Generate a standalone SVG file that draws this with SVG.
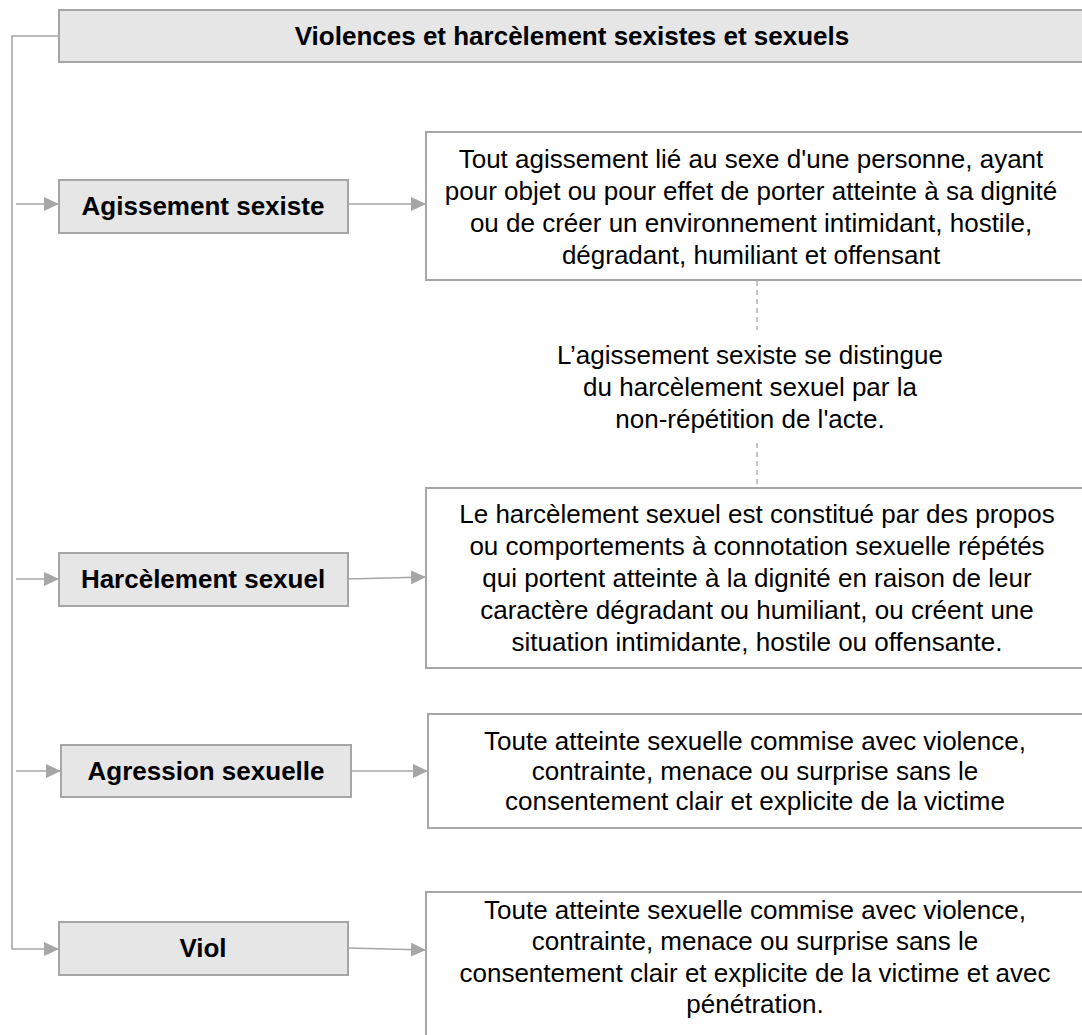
<svg xmlns="http://www.w3.org/2000/svg" width="1082" height="1035" viewBox="0 0 1082 1035">
<defs>
<style>
.gbox{fill:#e6e6e6;stroke:#a6a6a6;stroke-width:2}
.wbox{fill:#ffffff;stroke:#a6a6a6;stroke-width:2}
.ln{fill:none;stroke:#a6a6a6;stroke-width:1.6}
.dash{fill:none;stroke:#a6a6a6;stroke-width:1.3;stroke-dasharray:5 4}
.b{font-family:"Liberation Sans",Arial,sans-serif;font-weight:bold;font-size:26px;fill:#000;text-anchor:middle}
.t{font-family:"Liberation Sans",Arial,sans-serif;font-size:26px;fill:#000;text-anchor:middle}
</style>
<marker id="ah" markerWidth="15" markerHeight="14" refX="15" refY="7" orient="auto" markerUnits="userSpaceOnUse">
<path d="M0,0 L15,7 L0,14 Z" fill="#a6a6a6"/>
</marker>
</defs>
<rect width="1082" height="1035" fill="#ffffff"/>
<g id="connectors">
<path class="ln" d="M59,36 H12 V949 H59" marker-end="url(#ah)"/>
<path class="ln" d="M16,204 H59" marker-end="url(#ah)"/>
<path class="ln" d="M16,579 H59" marker-end="url(#ah)"/>
<path class="ln" d="M16,771 H61" marker-end="url(#ah)"/>
<path class="ln" d="M348,204 H426" marker-end="url(#ah)"/>
<path class="ln" d="M348,579 L426,577" marker-end="url(#ah)"/>
<path class="ln" d="M351,771 H428" marker-end="url(#ah)"/>
<path class="ln" d="M348,948 L426,950" marker-end="url(#ah)"/>
<path class="dash" d="M757,281 V330"/>
<path class="dash" d="M757,443 V487"/>
</g>
<g id="title">
<rect class="gbox" x="59" y="10" width="1040" height="52"/>
<text class="b" x="572" y="45">Violences et harcèlement sexistes et sexuels</text>
</g>
<g id="agissement">
<rect class="gbox" x="59" y="180" width="289" height="53"/>
<text class="b" x="203" y="215">Agissement sexiste</text>
</g>
<g id="agissement-def">
<rect class="wbox" x="426" y="132" width="680" height="148"/>
<text class="t" x="751" y="168">Tout agissement lié au sexe d'une personne, ayant</text>
<text class="t" x="751" y="200">pour objet ou pour effet de porter atteinte à sa dignité</text>
<text class="t" x="751" y="232">ou de créer un environnement intimidant, hostile,</text>
<text class="t" x="751" y="264">dégradant, humiliant et offensant</text>
</g>
<g id="note">
<text class="t" x="750" y="364">L’agissement sexiste se distingue</text>
<text class="t" x="750" y="396">du harcèlement sexuel par la</text>
<text class="t" x="750" y="428">non-répétition de l'acte.</text>
</g>
<g id="harcelement">
<rect class="gbox" x="59" y="553" width="289" height="53"/>
<text class="b" x="203" y="588">Harcèlement sexuel</text>
</g>
<g id="harcelement-def">
<rect class="wbox" x="426" y="488" width="680" height="180"/>
<text class="t" x="757" y="523">Le harcèlement sexuel est constitué par des propos</text>
<text class="t" x="757" y="555">ou comportements à connotation sexuelle répétés</text>
<text class="t" x="757" y="587">qui portent atteinte à la dignité en raison de leur</text>
<text class="t" x="757" y="619">caractère dégradant ou humiliant, ou créent une</text>
<text class="t" x="757" y="651">situation intimidante, hostile ou offensante.</text>
</g>
<g id="agression">
<rect class="gbox" x="61" y="745" width="290" height="52"/>
<text class="b" x="206" y="780">Agression sexuelle</text>
</g>
<g id="agression-def">
<rect class="wbox" x="428" y="714" width="680" height="114"/>
<text class="t" x="755" y="750">Toute atteinte sexuelle commise avec violence,</text>
<text class="t" x="755" y="780">contrainte, menace ou surprise sans le</text>
<text class="t" x="755" y="810">consentement clair et explicite de la victime</text>
</g>
<g id="viol">
<rect class="gbox" x="59" y="922" width="289" height="53"/>
<text class="b" x="203" y="957">Viol</text>
</g>
<g id="viol-def">
<rect class="wbox" x="426" y="892" width="680" height="180"/>
<text class="t" x="755" y="919">Toute atteinte sexuelle commise avec violence,</text>
<text class="t" x="755" y="950">contrainte, menace ou surprise sans le</text>
<text class="t" x="755" y="982">consentement clair et explicite de la victime et avec</text>
<text class="t" x="755" y="1013">pénétration.</text>
</g>
</svg>
